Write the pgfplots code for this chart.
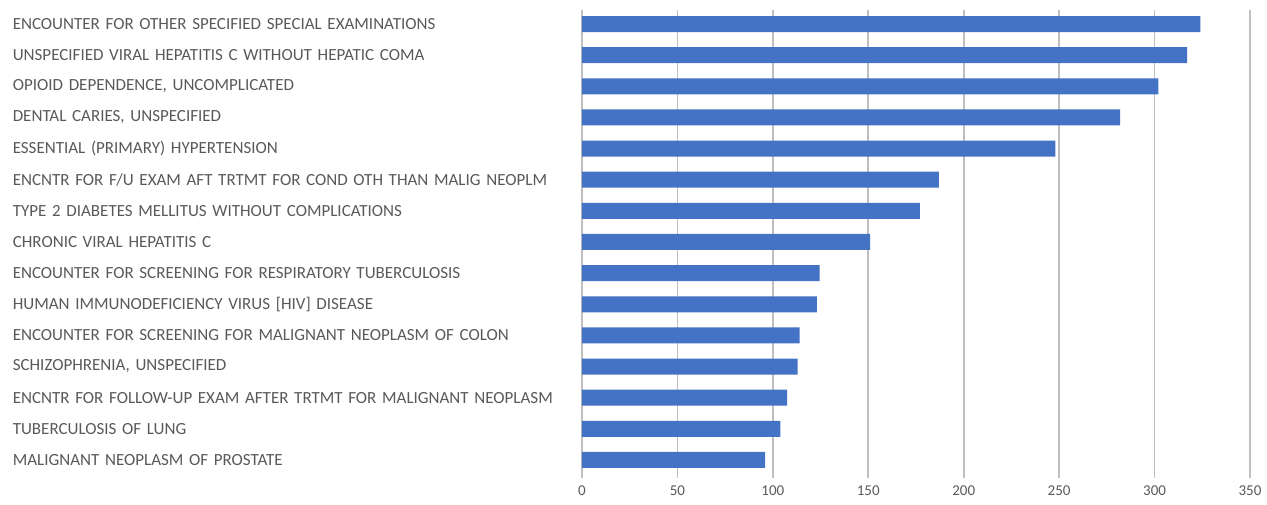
\documentclass[border=0pt]{standalone}
\usepackage{pgfplots}
\pgfplotsset{compat=1.18}
\usepackage{fontspec}
\setmainfont{Carlito}
\definecolor{barblue}{HTML}{4472C4}
\definecolor{gridgray}{HTML}{BFBFBF}
\definecolor{txtgray}{HTML}{595959}
\begin{document}
\begin{tikzpicture}
\useasboundingbox (0,0) rectangle (1267pt,504pt);
\begin{axis}[
  at={(582pt,26pt)}, anchor=south west,
  scale only axis,
  width=668pt, height=468pt,
  xbar, bar width=16pt,
  xmin=0, xmax=350,
  xtick={0,50,...,350},
  ymin=-0.45, ymax=14.58,
  y dir=reverse,
  ytick={0,...,14},
  yticklabels={
    ENCOUNTER FOR OTHER SPECIFIED SPECIAL EXAMINATIONS,
    UNSPECIFIED VIRAL HEPATITIS C WITHOUT HEPATIC COMA,
    {OPIOID DEPENDENCE, UNCOMPLICATED},
    {DENTAL CARIES, UNSPECIFIED},
    ESSENTIAL (PRIMARY) HYPERTENSION,
    ENCNTR FOR F/U EXAM AFT TRTMT FOR COND OTH THAN MALIG NEOPLM,
    TYPE 2 DIABETES MELLITUS WITHOUT COMPLICATIONS,
    CHRONIC VIRAL HEPATITIS C,
    ENCOUNTER FOR SCREENING FOR RESPIRATORY TUBERCULOSIS,
    HUMAN IMMUNODEFICIENCY VIRUS [HIV] DISEASE,
    ENCOUNTER FOR SCREENING FOR MALIGNANT NEOPLASM OF COLON,
    {SCHIZOPHRENIA, UNSPECIFIED},
    ENCNTR FOR FOLLOW-UP EXAM AFTER TRTMT FOR MALIGNANT NEOPLASM,
    TUBERCULOSIS OF LUNG,
    MALIGNANT NEOPLASM OF PROSTATE},
  yticklabel style={text width=566pt, align=left, font=\fontsize{17}{18}\selectfont, text=txtgray, inner sep=0pt, xshift=-3pt},
  xticklabel style={font=\fontsize{15}{17}\selectfont, text=txtgray, yshift=-4pt},
  /pgf/number format/assume math mode=true,
  xmajorgrids, major grid style={gridgray, line width=1.6pt},
  axis line style={draw=none},
  major tick length=0pt,
]
\addplot[fill=barblue, draw=none] coordinates {
(324,0) (317,1) (302,2) (282,3) (248,4) (187,5) (177,6) (151,7)
(124.5,8) (123,9) (114,10) (113,11) (107.5,12) (104,13) (96,14)
};
\end{axis}
\end{tikzpicture}
\end{document}
